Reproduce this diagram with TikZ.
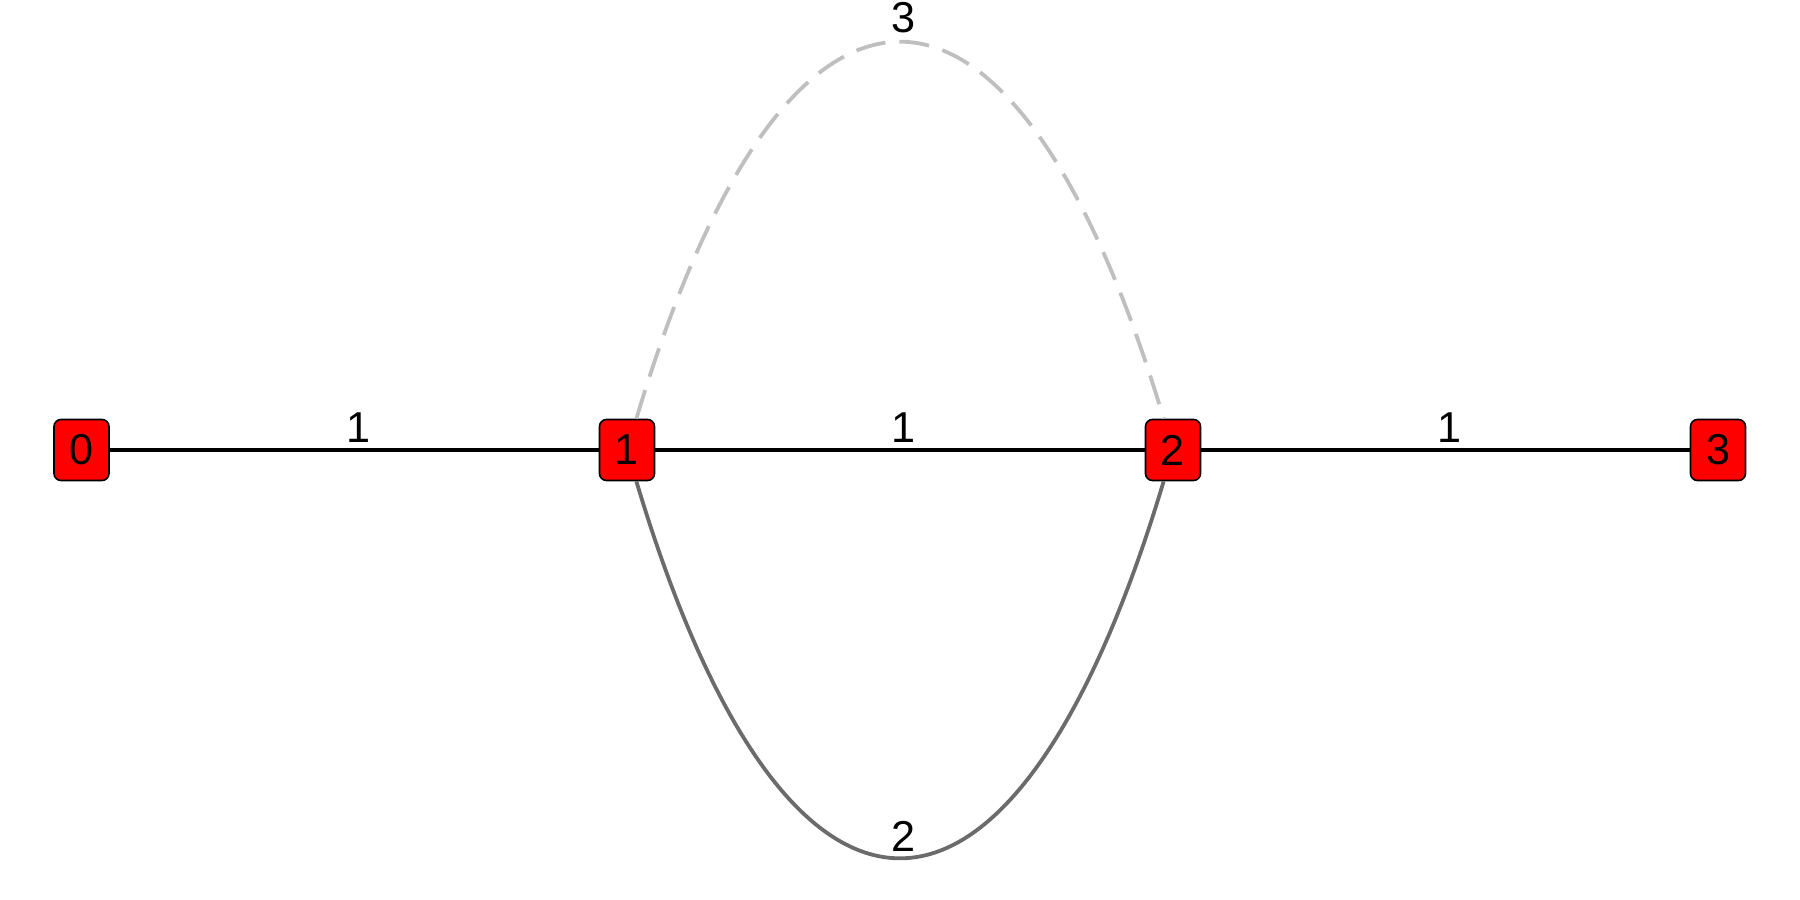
\documentclass[tikz,border=0pt]{standalone}
\usepackage{fontspec}
\setmainfont{Liberation Sans}
\begin{document}
\begin{tikzpicture}[x=0.5pt,y=-0.5pt,
  vtx/.style={draw=black, line width=0.8pt, fill=red, rounded corners=3.5pt,
    minimum width=27.5pt, minimum height=30.5pt, inner sep=0pt,
    font=\fontsize{21.6}{26}\selectfont},
  lbl/.style={font=\fontsize{21.6}{26}\selectfont, inner sep=0pt, anchor=base, yshift=4pt, xshift=2pt},
  straight/.style={draw=black, line width=2.3pt},
  lowcurve/.style={draw=black!58, line width=1.9pt},
  highcurve/.style={draw=black!25, line width=1.9pt, dash pattern=on 15pt off 7pt}]
\useasboundingbox (0,0) rectangle (1800,900);
\node[vtx] (n0) at (81.5,450) {0};
\node[vtx] (n1) at (627,450) {1};
\node[vtx] (n2) at (1173,450) {2};
\node[vtx] (n3) at (1718,450) {3};
\coordinate (t1) at (787,-84);
\coordinate (t2) at (1013,-84);
\coordinate (b1) at (787,984);
\coordinate (b2) at (1013,984);
\draw[straight] (n0) -- node[lbl, pos=0.5] {1} (n1);
\draw[straight] (n1) -- node[lbl, pos=0.5] {1} (n2);
\draw[straight] (n2) -- node[lbl, pos=0.5] {1} (n3);
\draw[highcurve] (n1) .. controls (t1) and (t2) .. node[lbl, pos=0.5, yshift=0.5pt] {3} (n2);
\draw[lowcurve] (n1) .. controls (b1) and (b2) .. node[lbl, pos=0.5, yshift=-0.5pt] {2} (n2);
\end{tikzpicture}
\end{document}
